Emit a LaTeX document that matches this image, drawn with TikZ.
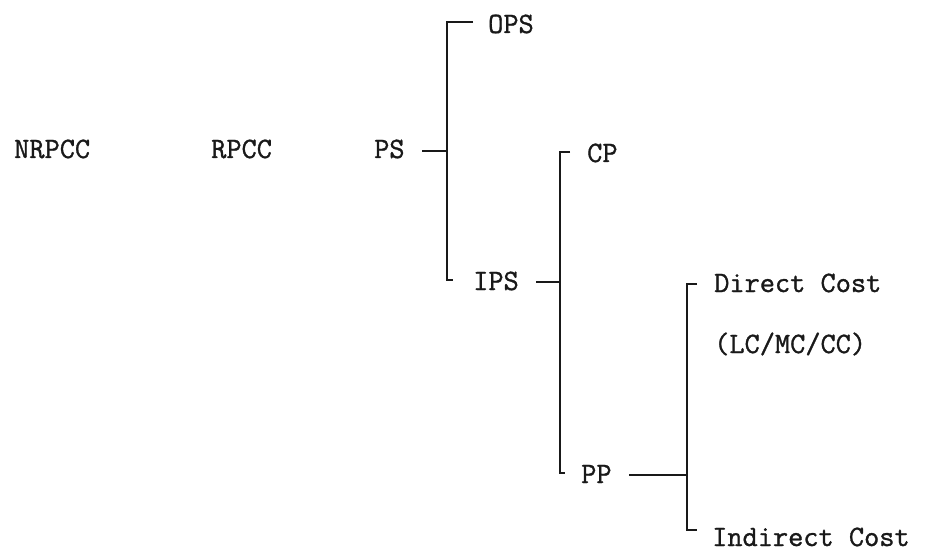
\documentclass[tikz,border=0pt]{standalone}
\usepackage{fontspec}
\newfontfamily\twfont{Latin Modern Mono}[FakeBold=1.1]
\begin{document}
\begin{tikzpicture}[x=1pt,y=-1pt,
  lbl/.style={anchor=base west, inner sep=0pt, text=black!90, font=\fontsize{29.5}{32}\selectfont\twfont},
  ln/.style={line width=2pt, draw=black!90}]
\useasboundingbox[fill=white] (0,0) rectangle (925,553);
% labels
\node[lbl] (nrpcc) at (14,158) {NRPCC};
\node[lbl] (rpcc) at (211,158) {RPCC};
\node[lbl] (ps) at (374,158) {PS};
\node[lbl] (ops) at (488,33) {OPS};
\node[lbl] (ips) at (473,290) {IPS};
\node[lbl] (cp) at (587,162) {CP};
\node[lbl] (pp) at (581,483) {PP};
\node[lbl] (dc) at (714,292) {Direct Cost};
\node[lbl] (lmc) at (714,353) {(LC/MC/CC)};
\node[lbl] (ic) at (712,546) {Indirect Cost};
% bracket coordinates
\coordinate (psT) at (422,151);
\coordinate (b1mid) at (447,151);
\coordinate (opsT) at (473,22);
\coordinate (b1top) at (447,22);
\coordinate (b1bot) at (447,280);
\coordinate (ipsL) at (453,280);
\coordinate (ipsT) at (536,282);
\coordinate (b2mid) at (560,282);
\coordinate (cpT) at (570,152);
\coordinate (b2top) at (560,152);
\coordinate (b2bot) at (560,473);
\coordinate (ppL) at (565,473);
\coordinate (ppT) at (629,475);
\coordinate (b3mid) at (687,475);
\coordinate (dcT) at (697,284);
\coordinate (b3top) at (687,284);
\coordinate (b3bot) at (687,530);
\coordinate (icT) at (697,530);
% connectors
\draw[ln] (psT) -- (b1mid);
\draw[ln] (opsT) -- (b1top) -- (b1bot) -- (ipsL);
\draw[ln] (ipsT) -- (b2mid);
\draw[ln] (cpT) -- (b2top) -- (b2bot) -- (ppL);
\draw[ln] (ppT) -- (b3mid);
\draw[ln] (dcT) -- (b3top) -- (b3bot) -- (icT);
\end{tikzpicture}
\end{document}
